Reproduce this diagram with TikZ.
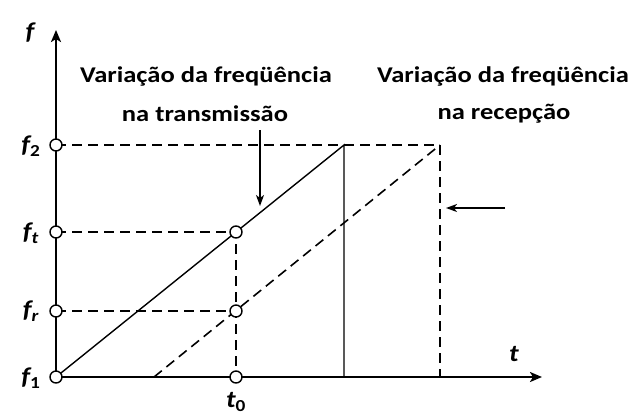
\documentclass[tikz,border=0pt]{standalone}
\usepackage{fontspec}
\setmainfont{Carlito}
\usetikzlibrary{arrows.meta}
\tikzset{
  axis/.style={line width=2.4pt,-{Stealth[length=12pt,width=10pt,inset=3pt]}},
  solidln/.style={line width=1.4pt},
  dashln/.style={line width=1.6pt,dash pattern=on 10pt off 6pt},
  pointer/.style={line width=1.4pt,-{Stealth[length=11pt,width=8pt,inset=3pt]}},
  dot/.style={circle,draw,fill=white,line width=1.4pt,minimum size=12pt,inner sep=0pt},
  lbl/.style={font=\fontsize{22.5}{26}\selectfont\bfseries,inner sep=0pt,xscale=1.18},
  axlbl/.style={font=\fontsize{24}{28}\selectfont\bfseries\itshape,inner sep=0pt,xscale=1.15},
}
\begin{document}
\begin{tikzpicture}[x=1pt,y=-1pt]
\useasboundingbox (0,0) rectangle (631,416);
% coordinates
\coordinate (O) at (56,377);
\coordinate (ytip) at (56,30);
\coordinate (xtip) at (542,377);
\coordinate (F2) at (56,145);
\coordinate (T2) at (344,145);
\coordinate (T2b) at (344,377);
\coordinate (R2) at (440,145);
\coordinate (R2b) at (440,377);
\coordinate (R0) at (154,377);
\coordinate (a1s) at (260,130);
\coordinate (a1e) at (260,206);
\coordinate (a2s) at (505,208);
\coordinate (a2e) at (446,208);
% dashed helpers
\draw[dashln] (F2) -- (R2) -- (R2b);
\draw[dashln] (R0) -- (R2);
\draw[dashln] (56,232) -- (236,232) -- (236,377);
\draw[dashln] (56,311) -- (236,311);
% solid lines
\draw[solidln] (O) -- (T2) -- (T2b);
% axes
\draw[axis] (O) -- (ytip);
\draw[axis] (O) -- (xtip);
% pointers
\draw[pointer] (a1s) -- (a1e);
\draw[pointer] (a2s) -- (a2e);
% dots
\node[dot] (d1) at (O) {};
\node[dot] (d2) at (F2) {};
\node[dot] (dt) at (56,232) {};
\node[dot] (dr) at (56,311) {};
\node[dot] (pt) at (236,232) {};
\node[dot] (pr) at (236,311) {};
\node[dot] (p0) at (236,377) {};
% axis labels
\node[axlbl] (lf) at (30,33) {f};
\node[axlbl] (lf2) at (31,146) {f\textsubscript{\upshape 2}};
\node[axlbl] (lft) at (31,233) {f\textsubscript{t}};
\node[axlbl] (lfr) at (31,311) {f\textsubscript{r}};
\node[axlbl] (lf1) at (31,378) {f\textsubscript{\upshape 1}};
\node[axlbl] (lt0) at (236,402) {t\textsubscript{\upshape 0}};
\node[axlbl] (lt) at (514,354) {t};
% text labels
\node[lbl] (tx1) at (206,76) {Variação da freqüência};
\node[lbl] (tx2) at (205,114) {na transmissão};
\node[lbl] (rx1) at (503,76) {Variação da freqüência};
\node[lbl] (rx2) at (504,114) {na recepção};
\end{tikzpicture}
\end{document}
